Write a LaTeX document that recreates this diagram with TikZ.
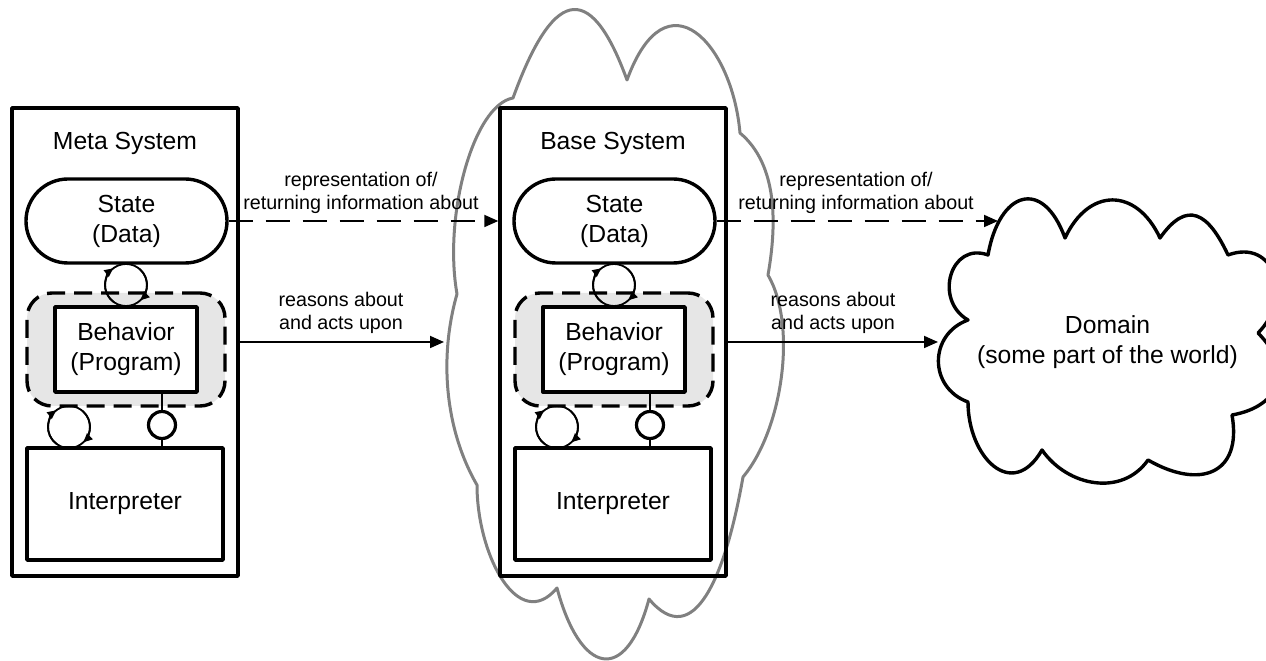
\documentclass[tikz,border=0pt]{standalone}
\usepackage{fontspec}
\setmainfont{Liberation Sans}
\usetikzlibrary{arrows.meta,calc}
\definecolor{shadegray}{RGB}{230,230,230}
\definecolor{cloudgray}{RGB}{128,128,128}
\begin{document}
\begin{tikzpicture}[x=1pt,y=1pt,line join=round,
  nodefont/.style={font=\fontsize{24.7}{30}\selectfont},
  lblfont/.style={font=\fontsize{19.7}{23}\selectfont,align=center,inner sep=0pt},
  sysbox/.style={draw,line width=3.4pt,minimum width=226pt,minimum height=468pt,inner sep=0pt},
  pill/.style={draw,line width=3.4pt,minimum width=201pt,minimum height=84pt,rounded corners=41.9pt,inner sep=0pt,align=center},
  shadebox/.style={draw,fill=shadegray,line width=3.4pt,dash pattern=on 18pt off 9pt,minimum width=198pt,minimum height=113pt,rounded corners=25pt,inner sep=0pt},
  progbox/.style={draw,fill=white,line width=3.4pt,minimum width=142pt,minimum height=85pt,inner sep=0pt,align=center},
  interp/.style={draw,line width=3.4pt,minimum width=196pt,minimum height=112pt,inner sep=0pt},
  lolly/.style={draw,circle,line width=3.2pt,minimum size=27pt,inner sep=0pt},
  stem/.style={line width=1.8pt},
  loopline/.style={line width=1.8pt},
  looparrow/.style={line width=1.8pt,-{Triangle[length=9pt,width=8pt]}},
  conn/.style={line width=1.8pt,-{Triangle[length=14pt,width=12pt]}},
  dconn/.style={conn,dash pattern=on 24pt off 13pt},
  greycloud/.style={draw=cloudgray,line width=3pt},
  domline/.style={draw=black,line width=3.4pt}
]
\useasboundingbox (0,0) rectangle (1266,661);
\clip (0,0) rectangle (1266,661);

% grey cloud around the base system
\coordinate (n1) at (513,563);
\coordinate (n2) at (627,581);
\coordinate (n3) at (740,528);
\coordinate (n4) at (768,386);
\coordinate (n5) at (743,184);
\coordinate (n6) at (649,62);
\coordinate (n7) at (557,73);
\coordinate (n8) at (477,176);
\coordinate (n9) at (457,367);
\draw[greycloud] (n1) to[out=70,in=110,distance=112pt] (n2)
  to[out=70,in=95,out distance=115pt,in distance=90pt] (n3)
  to[out=-40,in=80,distance=50pt] (n4)
  to[out=-60,in=50,distance=60pt] (n5)
  to[out=-100,in=-50,out distance=100pt,in distance=70pt] (n6)
  to[out=-105,in=-75,distance=90pt] (n7)
  to[out=-130,in=-90,out distance=60pt,in distance=70pt] (n8)
  to[out=120,in=-106,distance=65pt] (n9)
  to[out=100,in=190,out distance=80pt,in distance=40pt] (n1) -- cycle;

% domain cloud
\coordinate (d1) at (968,341);
\coordinate (d2) at (988,406);
\coordinate (d3) at (1065,423);
\coordinate (d4) at (1160,423);
\coordinate (d5) at (1228,406);
\coordinate (d6) at (1258,328);
\coordinate (d7) at (1232,246);
\coordinate (d8) at (1148,201);
\coordinate (d9) at (1042,211);
\coordinate (d10) at (968,259);
\draw[domline] (d1) to[out=150,in=160,distance=40pt] (d2)
  to[out=80,in=110,distance=65pt] (d3)
  to[out=65,in=115,distance=56pt] (d4)
  to[out=55,in=115,distance=47pt] (d5)
  to[out=20,in=45,distance=50pt] (d6)
  to[out=-45,in=10,distance=50pt] (d7)
  to[out=-80,in=-30,distance=60pt] (d8)
  to[out=-125,in=-55,distance=45pt] (d9)
  to[out=-120,in=-90,out distance=60pt,in distance=55pt] (d10)
  to[out=160,in=200,distance=42pt] (d1) -- cycle;
\node[nodefont,align=center,inner sep=0pt] (domain) at (1107.5,319) {Domain\\(some part of the world)};

% the two systems
\foreach \p/\dx/\ttl in {m/0/Meta System,b/488/Base System}{
  \begin{scope}[xshift=\dx pt]
    \node[sysbox] (\p-sys) at (125,319) {};
    \node[nodefont,inner sep=0pt] (\p-title) at (125,518) {\ttl};
    \node[pill,nodefont] (\p-state) at (126.5,440) {State\\(Data)};
    \node[shadebox] (\p-shade) at (126,311.5) {};
    \node[progbox,nodefont] (\p-beh) at (126,311.5) {Behavior\\(Program)};
    \node[interp,nodefont] (\p-int) at (125,157) {Interpreter};
    \coordinate (\p-l1) at (126,376);
    \coordinate (\p-l2) at (69,234);
    \node[lolly] (\p-lol) at (162,236) {};
    \draw[stem] (\p-beh.south -| \p-lol) -- (\p-lol.north);
    \draw[stem] (\p-lol.south) -- (\p-int.north -| \p-lol);
    \draw[loopline] (\p-l1) circle (21);
    \draw[looparrow] ($(\p-l1)+(235:21)$) arc[start angle=235,end angle=127,radius=21];
    \draw[looparrow] ($(\p-l1)+(50:21)$) arc[start angle=50,end angle=-47,radius=21];
    \draw[loopline] (\p-l2) circle (21);
    \draw[looparrow] ($(\p-l2)+(235:21)$) arc[start angle=235,end angle=127,radius=21];
    \draw[looparrow] ($(\p-l2)+(50:21)$) arc[start angle=50,end angle=-47,radius=21];
  \end{scope}
}

% connector end points on the clouds
\coordinate (gin) at (444,319);
\coordinate (dl) at (998,440);
\coordinate (dsol) at (938,319);

% connectors
\draw[dconn] (m-state.east) -- (m-state.east -| b-sys.west);
\draw[conn] (m-sys.east) -- (gin);
\draw[dconn] (b-state.east) -- (dl);
\draw[conn] (b-sys.east) -- (dsol);

% labels
\node[lblfont] (lab1) at (361,467.6) {representation of/\\returning information about};
\node[lblfont] (lab2) at (341,347.6) {reasons about\\and acts upon};
\node[lblfont] (lab3) at (856,467.6) {representation of/\\returning information about};
\node[lblfont] (lab4) at (833,347.6) {reasons about\\and acts upon};
\end{tikzpicture}
\end{document}
